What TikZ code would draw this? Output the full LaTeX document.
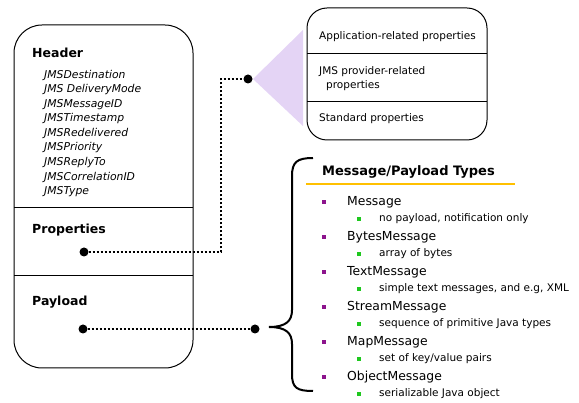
\documentclass[tikz,border=0pt]{standalone}
\usepackage{fontspec}
\setmainfont{DejaVu Sans}
\definecolor{lav}{RGB}{228,212,245}
\definecolor{bpurple}{RGB}{140,20,140}
\definecolor{bgreen}{RGB}{30,200,30}
\definecolor{gold}{RGB}{255,192,0}
\begin{document}
\begin{tikzpicture}[x=1pt,y=-1pt,
  box/.style={draw=black,line width=1pt},
  dotnode/.style={circle,fill=black,inner sep=0pt,minimum size=9pt},
  dotline/.style={line width=1.8pt,dash pattern=on 1.8pt off 2.2pt},
  lbl/.style={anchor=west,inner sep=0pt},
  hdr/.style={lbl,font=\bfseries\fontsize{12.5}{14}\selectfont},
  hitem/.style={lbl,font=\itshape\fontsize{10.8}{12}\selectfont},
  ptext/.style={lbl,font=\fontsize{10.5}{12}\selectfont},
  ttl/.style={lbl,font=\bfseries\fontsize{13}{15}\selectfont},
  mitem/.style={lbl,font=\fontsize{12.4}{14}\selectfont},
  sitem/.style={lbl,font=\fontsize{10.5}{12}\selectfont},
  pb/.style={fill=bpurple,inner sep=0pt,minimum size=4pt},
  gb/.style={fill=bgreen,inner sep=0pt,minimum size=4pt}]
\useasboundingbox (0,0) rectangle (579,403);
% triangle
\fill[lav] (253,79) -- (303,30) -- (303,126) -- cycle;
% left box
\draw[box,rounded corners=28pt] (14,25) rectangle (193,368);
\draw[box] (14,208) -- (193,208);
\draw[box] (14,276) -- (193,276);
\node[hdr] (header) at (32,53) {Header};
\foreach \t [count=\i] in {JMSDestination,JMS DeliveryMode,JMSMessageID,JMSTimestamp,JMSRedelivered,JMSPriority,JMSReplyTo,JMSCorrelationID,JMSType}
  \node[hitem] (h\i) at (44,{75+(\i-1)*14.6}) {\t};
\node[hdr] (props) at (32,230) {Properties};
\node[hdr] (payload) at (32,302) {Payload};
% right box
\draw[box,rounded corners=20pt] (307,8) rectangle (487,140);
\draw[box] (307,54) -- (487,54);
\draw[box] (307,102) -- (487,102);
\node[ptext] (app) at (319,37) {Application-related properties};
\node[ptext] (jms1) at (319,72) {JMS provider-related};
\node[ptext] (jms2) at (326,86) {properties};
\node[ptext] (std) at (319,119) {Standard properties};
% dots and connectors
\node[dotnode] (pd) at (84,252) {};
\node[dotnode] (td) at (248,79) {};
\node[dotnode] (yd) at (83,329) {};
\node[dotnode] (bd) at (255,329) {};
\coordinate (c1) at (221,252);
\coordinate (c2) at (221,79);
\draw[dotline] (pd) -- (c1) -- (c2) -- (td);
\draw[dotline] (yd) -- (bd);
% brace
\coordinate (btip) at (269,327);
\draw[line width=2pt] (313,158) .. controls (297,158) and (292,162) .. (292,176) -- (292,310) .. controls (292,321) and (286,327) .. (btip) .. controls (286,327) and (292,333) .. (292,344) -- (292,374) .. controls (292,388) and (297,391) .. (313,391);
% title
\node[ttl] (title) at (322,172) {Message/Payload Types};
\draw[gold,line width=2pt] (306,184) -- (515,184);
\foreach \m/\s [count=\i] in {Message/{no payload, notification only},BytesMessage/{array of bytes},TextMessage/{simple text messages, and e.g, XML},StreamMessage/{sequence of primitive Java types},MapMessage/{set of key{/}value pairs},ObjectMessage/{serializable Java object}}{
  \node[pb] (p\i) at (324,{202+(\i-1)*35}) {};
  \node[mitem] (m\i) at (347,{202+(\i-1)*35}) {\m};
  \node[gb] (g\i) at (359,{219+(\i-1)*35}) {};
  \node[sitem] (s\i) at (379,{219+(\i-1)*35}) {\s};
}
\end{tikzpicture}
\end{document}
